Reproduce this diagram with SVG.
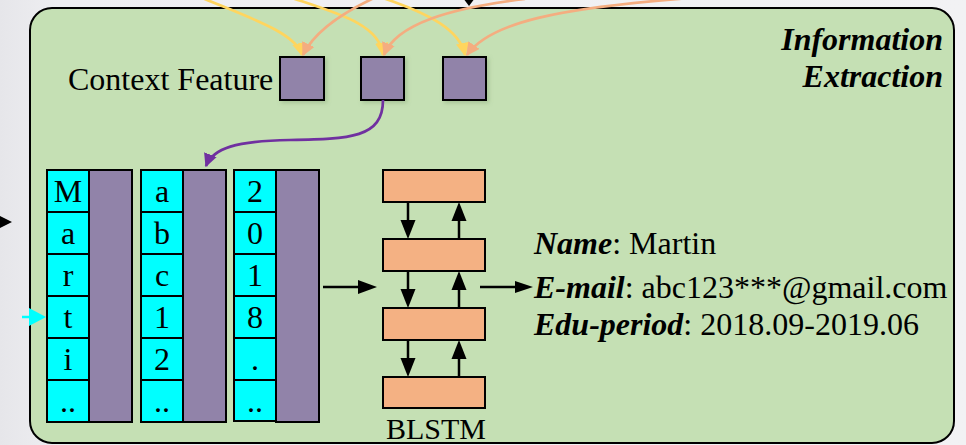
<svg xmlns="http://www.w3.org/2000/svg" width="966" height="445" viewBox="0 0 966 445">
<defs>
<linearGradient id="bg" x1="0" y1="0" x2="1" y2="0">
<stop offset="0" stop-color="#e6e6ea"/>
<stop offset="0.06" stop-color="#eeeef1"/>
<stop offset="1" stop-color="#f2f2f4"/>
</linearGradient>
<filter id="sh" x="-20%" y="-20%" width="150%" height="150%">
<feDropShadow dx="2" dy="2" stdDeviation="2" flood-color="#6f8f60" flood-opacity="0.35"/>
</filter>
<marker id="mY" viewBox="0 0 10 10" refX="9" refY="5" markerWidth="5" markerHeight="5" orient="auto" markerUnits="strokeWidth">
<path d="M0,0 L10,5 L0,10 Z" fill="#ffd55e"/>
</marker>
<marker id="mO" viewBox="0 0 10 10" refX="9" refY="5" markerWidth="5" markerHeight="5" orient="auto" markerUnits="strokeWidth">
<path d="M0,0 L10,5 L0,10 Z" fill="#f4ad80"/>
</marker>
<marker id="mP" viewBox="0 0 10 10" refX="9" refY="5" markerWidth="5" markerHeight="5" orient="auto" markerUnits="strokeWidth">
<path d="M0,0 L10,5 L0,10 Z" fill="#7030a0"/>
</marker>
</defs>
<style>
.t{font-family:"Liberation Serif","Times New Roman",serif;font-size:32px;fill:#000}
.c{text-anchor:middle}
.bi{font-weight:bold;font-style:italic}
.sq{fill:#9183a9;stroke:#000;stroke-width:2}
.cy{fill:#00ffff;stroke:#000;stroke-width:2}
.pu{fill:#9183a9;stroke:#000;stroke-width:2}
.bx{fill:#f4b183;stroke:#000;stroke-width:2}
.ln{fill:none;stroke:#000;stroke-width:2.5}
.yl{fill:none;stroke:#ffd55e;stroke-width:2.7}
.or{fill:none;stroke:#f4ad80;stroke-width:2.7}
</style>
<rect x="0" y="0" width="966" height="445" fill="url(#bg)"/>

<g id="container">
<rect x="30" y="8" width="924" height="435" rx="22" fill="#c5e0b4" stroke="#000" stroke-width="2"/>
<text class="t bi" text-anchor="end" x="943" y="50">Information</text>
<text class="t bi" text-anchor="end" x="943" y="87">Extraction</text>
</g>

<g id="context-feature">
<text class="t" x="68" y="90">Context Feature</text>
<rect id="cf1" class="sq" x="280" y="57" width="44" height="43" filter="url(#sh)"/>
<rect id="cf2" class="sq" x="361" y="57" width="43" height="43" filter="url(#sh)"/>
<rect id="cf3" class="sq" x="443" y="57" width="43" height="43" filter="url(#sh)"/>
</g>

<g id="column1">
<rect class="pu" x="89" y="170" width="43" height="252"/>
<rect class="cy" x="47" y="170" width="42" height="42"/>
<rect class="cy" x="47" y="212" width="42" height="42"/>
<rect class="cy" x="47" y="254" width="42" height="42"/>
<rect class="cy" x="47" y="296" width="42" height="42"/>
<rect class="cy" x="47" y="338" width="42" height="42"/>
<rect class="cy" x="47" y="380" width="42" height="42"/>
<text class="t c" x="68" y="202">M</text>
<text class="t c" x="68" y="244">a</text>
<text class="t c" x="68" y="286">r</text>
<text class="t c" x="68" y="328">t</text>
<text class="t c" x="68" y="370">i</text>
<text class="t c" x="68" y="412">..</text>
</g>

<g id="column2">
<rect class="pu" x="183" y="170" width="43" height="252"/>
<rect class="cy" x="141" y="170" width="42" height="42"/>
<rect class="cy" x="141" y="212" width="42" height="42"/>
<rect class="cy" x="141" y="254" width="42" height="42"/>
<rect class="cy" x="141" y="296" width="42" height="42"/>
<rect class="cy" x="141" y="338" width="42" height="42"/>
<rect class="cy" x="141" y="380" width="42" height="42"/>
<text class="t c" x="162" y="202">a</text>
<text class="t c" x="162" y="244">b</text>
<text class="t c" x="162" y="286">c</text>
<text class="t c" x="162" y="328">1</text>
<text class="t c" x="162" y="370">2</text>
<text class="t c" x="162" y="412">..</text>
</g>

<g id="column3">
<rect class="pu" x="276" y="170" width="43" height="252"/>
<rect class="cy" x="234" y="170" width="42" height="42"/>
<rect class="cy" x="234" y="212" width="42" height="42"/>
<rect class="cy" x="234" y="254" width="42" height="42"/>
<rect class="cy" x="234" y="296" width="42" height="42"/>
<rect class="cy" x="234" y="338" width="42" height="42"/>
<rect class="cy" x="234" y="380" width="42" height="41"/>
<text class="t c" x="255" y="202">2</text>
<text class="t c" x="255" y="244">0</text>
<text class="t c" x="255" y="286">1</text>
<text class="t c" x="255" y="328">8</text>
<text class="t c" x="255" y="370">.</text>
<text class="t c" x="255" y="412">..</text>
</g>

<g id="blstm">
<rect class="bx" x="383" y="170" width="102" height="32"/>
<rect class="bx" x="383" y="239" width="102" height="32"/>
<rect class="bx" x="383" y="308" width="102" height="32"/>
<rect class="bx" x="383" y="377" width="102" height="31"/>
<text class="t c" x="436" y="439" style="font-size:30px">BLSTM</text>
</g>

<g id="output">
<text class="t" x="534" y="254"><tspan class="bi">Name</tspan>: Martin</text>
<text class="t" x="534" y="298"><tspan class="bi">E-mail</tspan>: abc123***@gmail.com</text>
<text class="t" x="534" y="335"><tspan class="bi">Edu-period</tspan>: 2018.09-2019.06</text>
</g>

<g id="connectors">
<path class="yl" d="M200,-3 C250,18 296,33 302,55" marker-end="url(#mY)"/>
<path class="yl" d="M292,-2 C340,14 380,25 383,55" marker-end="url(#mY)"/>
<path class="yl" d="M383,-2 C430,14 460,30 465,55" marker-end="url(#mY)"/>
<path class="or" d="M374,-2 C340,14 314,32 303,55" marker-end="url(#mO)"/>
<path class="or" d="M525,-1 C450,8 396,24 384,55" marker-end="url(#mO)"/>
<path class="or" d="M690,-2 C560,8 490,22 467,55" marker-end="url(#mO)"/>
<polygon points="463,-2 475,-2 469,6" fill="#000"/>
<path d="M383,100 C383,138 350,139 290,140 C236,141 213,148 206,166" fill="none" stroke="#7030a0" stroke-width="2.7" marker-end="url(#mP)"/>
<polygon points="-2,215 12,222 -2,229" fill="#000"/>
<line x1="22" y1="317" x2="32" y2="317" stroke="#00ffff" stroke-width="2.5"/>
<polygon points="29,308 46,317 29,326" fill="#00ffff"/>
<line class="ln" x1="323" y1="287" x2="360" y2="287"/>
<polygon points="358,280 377,287 358,294"/>
<line class="ln" x1="480" y1="287" x2="517" y2="287"/>
<polygon points="515,281 533,287 515,293"/>
<line class="ln" x1="408" y1="202" x2="408" y2="222"/>
<polygon points="400.5,220 415.5,220 408,239"/>
<line class="ln" x1="459" y1="239" x2="459" y2="219"/>
<polygon points="451.5,221 466.5,221 459,202"/>
<line class="ln" x1="408" y1="271" x2="408" y2="291"/>
<polygon points="400.5,289 415.5,289 408,308"/>
<line class="ln" x1="459" y1="308" x2="459" y2="288"/>
<polygon points="451.5,290 466.5,290 459,271"/>
<line class="ln" x1="408" y1="340" x2="408" y2="360"/>
<polygon points="400.5,358 415.5,358 408,377"/>
<line class="ln" x1="459" y1="377" x2="459" y2="357"/>
<polygon points="451.5,359 466.5,359 459,340"/>
</g>
</svg>
